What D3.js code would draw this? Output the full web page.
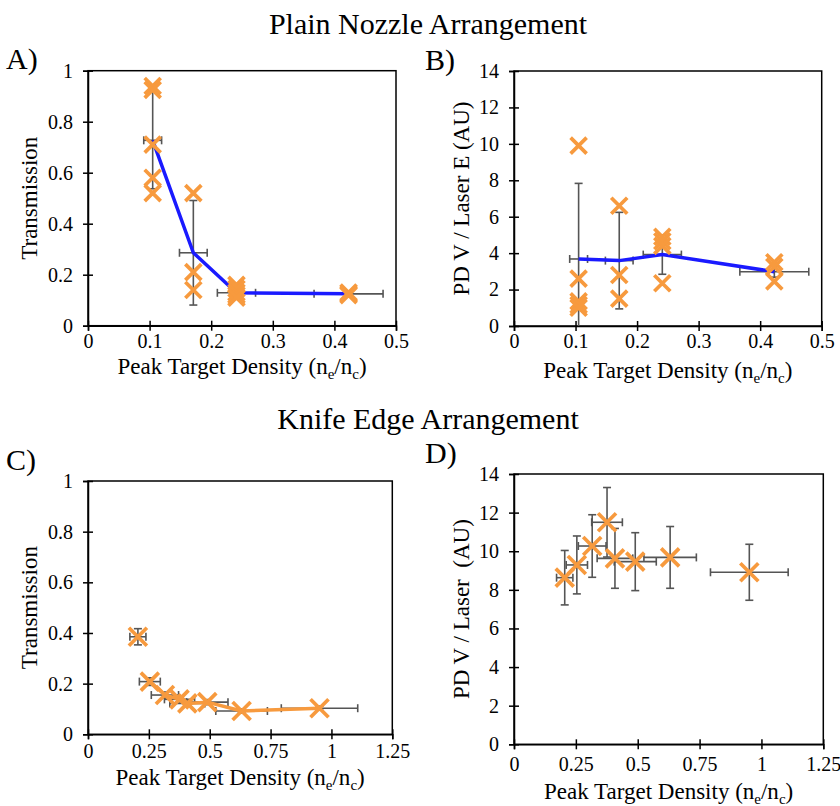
<!DOCTYPE html>
<html>
<head>
<meta charset="utf-8">
<script src="https://cdn.jsdelivr.net/npm/d3@7"></script>
<style>
  body { margin: 0; background: #fff; }
  text { font-family: "Liberation Serif", "Times New Roman", "DejaVu Serif", serif; }
</style>
</head>
<body>
<script>
// plain nozzle: density groups, individual shots and group means
const plainDensity = [0.105, 0.171, 0.241, 0.423];
const plainDensityErr = [0.0145, 0.0225, 0.031, 0.056];
const plainTransShots = [
  [0.94, 0.925, 0.71, 0.58, 0.52],
  [0.52, 0.21, 0.14],
  [0.16, 0.145, 0.13, 0.12, 0.11],
  [0.13, 0.125, 0.12]
];
const plainTransMean = [0.727, 0.286, 0.129, 0.125];
const plainTransErr = [0.19, 0.205, 0.02, 0.01];
const plainPdShots = [
  [9.9, 2.6, 1.35, 1.15, 1.0],
  [6.6, 2.8, 1.5],
  [4.9, 4.65, 4.4, 2.35],
  [3.5, 3.25, 2.45]
];
const plainPdMean = [3.68, 3.59, 3.92, 2.98];
const plainPdErr = [4.15, 2.65, 1.08, 0.3];

// knife edge
const knifeDensity = [0.205, 0.254, 0.316, 0.376, 0.408, 0.49, 0.631, 0.951];
const knifeDensityErr = [0.033, 0.043, 0.056, 0.062, 0.072, 0.085, 0.106, 0.157];
const knifeTrans = [0.385, 0.208, 0.155, 0.138, 0.122, 0.127, 0.092, 0.103];
const knifeTransErr = [0.032, 0.015, 0.012, 0.01, 0.01, 0.01, 0.008, 0.008];
const knifePd = [8.63, 9.29, 10.27, 11.5, 9.63, 9.46, 9.68, 8.91];
const knifePdErr = [1.41, 1.5, 1.62, 1.8, 1.55, 1.5, 1.6, 1.45];

const ticks05 = [0, 0.1, 0.2, 0.3, 0.4, 0.5];
const ticks05Labels = ["0", "0.1", "0.2", "0.3", "0.4", "0.5"];
const ticks125 = [0, 0.25, 0.5, 0.75, 1, 1.25];
const ticks125Labels = ["0", "0.25", "0.5", "0.75", "1", "1.25"];
const ticksT = [0, 0.2, 0.4, 0.6, 0.8, 1];
const ticksTLabels = ["0", "0.2", "0.4", "0.6", "0.8", "1"];
const ticksPd = [0, 2, 4, 6, 8, 10, 12, 14];
const ticksPdLabels = ["0", "2", "4", "6", "8", "10", "12", "14"];

const serif = "Liberation Serif, Times New Roman, DejaVu Serif, serif";
const orange = "#f79a3e", blue = "#1a1aff", errColor = "#555";

const svg = d3.select("body").append("svg")
    .attr("width", 840)
    .attr("height", 806)
    .attr("font-family", serif);

svg.append("text").attr("x", 428).attr("y", 34).attr("text-anchor", "middle")
    .attr("font-family", serif).attr("font-size", 30).text("Plain Nozzle Arrangement");
svg.append("text").attr("x", 428).attr("y", 429).attr("text-anchor", "middle")
    .attr("font-family", serif).attr("font-size", 30).text("Knife Edge Arrangement");

function panel(p) {
    const x = d3.scaleLinear().domain(p.xDomain).range(p.xRange);
    const y = d3.scaleLinear().domain(p.yDomain).range(p.yRange);
    const g = svg.append("g");

    // frame
    g.append("rect")
        .attr("x", p.xRange[0]).attr("y", p.yRange[1])
        .attr("width", p.xRange[1] - p.xRange[0])
        .attr("height", p.yRange[0] - p.yRange[1])
        .attr("fill", "none").attr("stroke", "#000").attr("stroke-width", 1.5);

    const ax = g.append("g")
        .attr("transform", "translate(0," + p.yRange[0] + ")")
        .call(d3.axisBottom(x).tickValues(p.xTicks).tickFormat((d, i) => p.xLabels[i]).tickSizeOuter(0).tickSize(5));
    ax.selectAll(".tick line").attr("y1", -5).attr("y2", 5).attr("stroke-width", 1.5);
    ax.selectAll(".tick text").attr("y", p.xTickBase).attr("dy", null);
    const ay = g.append("g")
        .attr("transform", "translate(" + p.xRange[0] + ",0)")
        .call(d3.axisLeft(y).tickValues(p.yTicks).tickFormat((d, i) => p.yLabels[i]).tickSizeOuter(0).tickSize(5).tickPadding(10));
    ay.selectAll(".tick line").attr("x1", 5).attr("x2", -5).attr("stroke-width", 1.5);
    g.selectAll(".domain").attr("stroke-width", 1.5);
    g.selectAll(".tick text").attr("font-size", 20).attr("font-family", serif).attr("fill", "#000");
    ax.attr("font-family", serif);
    ay.attr("font-family", serif);

    // axis titles
    const xt = g.append("text")
        .attr("x", (p.xRange[0] + p.xRange[1]) / 2).attr("y", p.yRange[0] + p.xTitle)
        .attr("text-anchor", "middle").attr("font-size", 23).attr("font-family", serif);
    xt.append("tspan").text("Peak Target Density (n");
    xt.append("tspan").attr("font-size", 15).attr("dy", 5).text("e");
    xt.append("tspan").attr("dy", -5).text("/n");
    xt.append("tspan").attr("font-size", 15).attr("dy", 5).text("c");
    xt.append("tspan").attr("dy", -5).text(")");
    g.append("text")
        .attr("transform", "translate(" + p.yTitleX + "," + (p.yRange[0] + p.yRange[1]) / 2 + ") rotate(-90)")
        .attr("text-anchor", "middle").attr("font-size", 23).attr("font-family", serif)
        .attr("xml:space", "preserve")
        .text(p.yTitle);
    g.append("text").attr("x", p.label[0]).attr("y", p.label[1])
        .attr("font-size", 30).attr("font-family", serif).text(p.labelText);

    // error bars
    const cap = 4;
    const eb = g.append("g").attr("stroke", errColor).attr("stroke-width", 1.6).attr("fill", "none");
    p.pts.forEach(d => {
        const lo = Math.max(p.yDomain[0], d.y - d.ey), hi = d.y + d.ey;
        eb.append("line").attr("x1", x(d.x)).attr("x2", x(d.x)).attr("y1", y(lo)).attr("y2", y(hi));
        eb.append("line").attr("x1", x(d.x) - cap).attr("x2", x(d.x) + cap).attr("y1", y(hi)).attr("y2", y(hi));
        if (lo > p.yDomain[0]) eb.append("line").attr("x1", x(d.x) - cap).attr("x2", x(d.x) + cap).attr("y1", y(lo)).attr("y2", y(lo));
        const l = x(d.x - d.ex), r = x(d.x + d.ex);
        eb.append("line").attr("x1", l).attr("x2", r).attr("y1", y(d.y)).attr("y2", y(d.y));
        eb.append("line").attr("x1", l).attr("x2", l).attr("y1", y(d.y) - cap).attr("y2", y(d.y) + cap);
        eb.append("line").attr("x1", r).attr("x2", r).attr("y1", y(d.y) - cap).attr("y2", y(d.y) + cap);
    });

    if (p.line) {
        g.append("path")
            .datum(p.line)
            .attr("fill", "none")
            .attr("stroke", p.lineColor)
            .attr("stroke-width", 3.5)
            .attr("stroke-linejoin", "round")
            .attr("d", d3.line().x(d => x(d.x)).y(d => y(d.y)));
    }

    const s = p.size;
    g.append("g").selectAll("path")
        .data(p.marks)
        .enter().append("path")
        .attr("transform", d => "translate(" + x(d.x) + "," + y(d.y) + ")")
        .attr("d", "M" + (-s) + "," + (-s) + "L" + s + "," + s + "M" + (-s) + "," + s + "L" + s + "," + (-s))
        .attr("stroke", orange)
        .attr("stroke-width", 3.7)
        .attr("fill", "none");
}

const shots = arr => arr.flatMap((vals, i) => vals.map(v => ({ x: plainDensity[i], y: v })));
const means = (m, e) => m.map((v, i) => ({ x: plainDensity[i], y: v, ex: plainDensityErr[i], ey: e[i] }));
const knife = (v, e) => v.map((d, i) => ({ x: knifeDensity[i], y: d, ex: knifeDensityErr[i], ey: e[i] }));

panel({
    xDomain: [0, 0.5], yDomain: [0, 1], xRange: [88, 396], yRange: [325.7, 70.7],
    xTicks: ticks05, xLabels: ticks05Labels, yTicks: ticksT, yLabels: ticksTLabels,
    xTickBase: 22, xTitle: 48,
    yTitle: "Transmission", yTitleX: 37, label: [6, 69], labelText: "A)",
    pts: means(plainTransMean, plainTransErr),
    line: means(plainTransMean, plainTransErr), lineColor: blue,
    marks: shots(plainTransShots), size: 8
});
panel({
    xDomain: [0, 0.5], yDomain: [0, 14], xRange: [514, 821.7], yRange: [326, 71],
    xTicks: ticks05, xLabels: ticks05Labels, yTicks: ticksPd, yLabels: ticksPdLabels,
    xTickBase: 22, xTitle: 52,
    yTitle: "PD V / Laser E (AU)", yTitleX: 469, label: [425, 70], labelText: "B)",
    pts: means(plainPdMean, plainPdErr),
    line: means(plainPdMean, plainPdErr), lineColor: blue,
    marks: shots(plainPdShots), size: 8
});
panel({
    xDomain: [0, 1.25], yDomain: [0, 1], xRange: [88, 392.3], yRange: [734.3, 481],
    xTicks: ticks125, xLabels: ticks125Labels, yTicks: ticksT, yLabels: ticksTLabels,
    xTickBase: 24, xTitle: 51,
    yTitle: "Transmission", yTitleX: 37, label: [6, 470], labelText: "C)",
    pts: knife(knifeTrans, knifeTransErr),
    line: knife(knifeTrans, knifeTransErr).slice(1), lineColor: orange,
    marks: knife(knifeTrans, knifeTransErr), size: 9
});
panel({
    xDomain: [0, 1.25], yDomain: [0, 14], xRange: [514, 823.3], yRange: [744.3, 474],
    xTicks: ticks125, xLabels: ticks125Labels, yTicks: ticksPd, yLabels: ticksPdLabels,
    xTickBase: 27, xTitle: 55,
    yTitle: "PD V / Laser  (AU)", yTitleX: 469, label: [425, 463], labelText: "D)",
    pts: knife(knifePd, knifePdErr),
    line: null,
    marks: knife(knifePd, knifePdErr), size: 9
});
</script>
</body>
</html>
